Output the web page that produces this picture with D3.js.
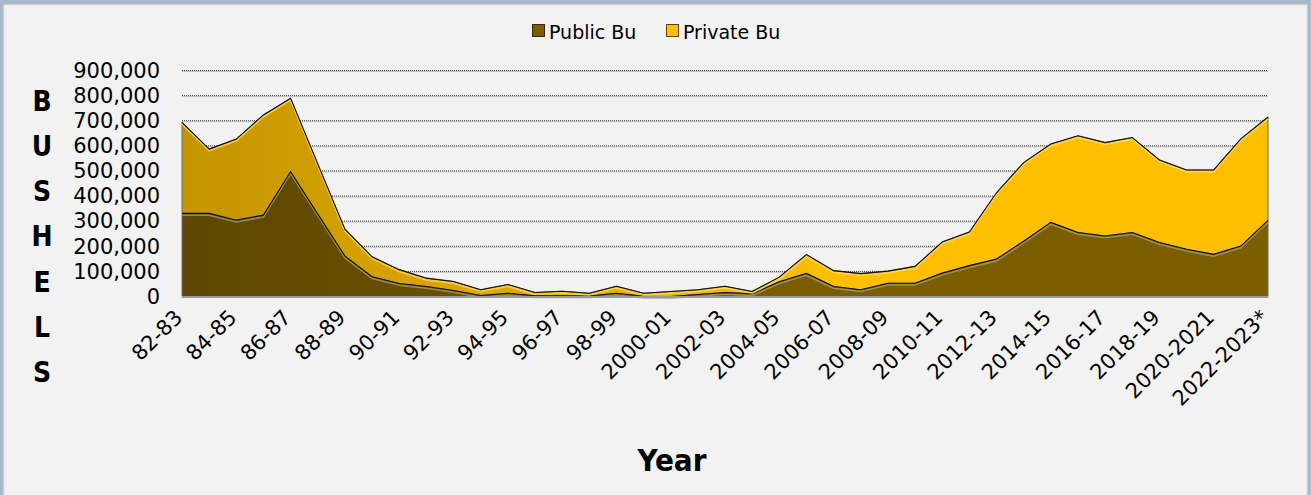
<!DOCTYPE html>
<html>
<head>
<meta charset="utf-8">
<script src="https://cdn.jsdelivr.net/npm/d3@7"></script>
<style>
  html, body { margin: 0; padding: 0; background: #f2f2f2; }
  svg { display: block; }
  text { font-family: "DejaVu Sans", sans-serif; fill: #000; }
</style>
</head>
<body>
<svg id="chart" width="1311" height="495"></svg>
<script>
// ---- data ----
const categories = ["82-83","83-84","84-85","85-86","86-87","87-88","88-89","89-90","90-91","91-92",
  "92-93","93-94","94-95","95-96","96-97","97-98","98-99","99-00","2000-01","2001-02",
  "2002-03","2003-04","2004-05","2005-06","2006-07","2007-08","2008-09","2009-10","2010-11","2011-12",
  "2012-13","2013-14","2014-15","2015-16","2016-17","2017-18","2018-19","2019-20","2020-2021","2021-2022",
  "2022-2023*"];
const publicBu = [331000,331000,304000,324000,497000,328000,161000,79000,52000,40000,
  24000,4000,13000,3000,3000,2000,13000,1000,0,8000,
  16000,11000,59000,92000,40000,27000,53000,53000,93000,123000,
  149000,220000,295000,255000,241000,255000,215000,188000,168000,201000,
  303000];
const totalBu = [693000,587000,627000,723000,789000,528000,268000,158000,107000,73000,
  60000,27000,48000,16000,21000,13000,41000,13000,20000,27000,
  41000,20000,77000,167000,103000,91000,101000,120000,217000,257000,
  413000,533000,607000,640000,613000,633000,544000,504000,504000,628000,
  715000];
const privateBu = totalBu.map((t, i) => t - publicBu[i]);
const seriesNames = ["Public Bu", "Private Bu"];
const yTicks = [0,100000,200000,300000,400000,500000,600000,700000,800000,900000];
const xTickLabels = ["82-83","84-85","86-87","88-89","90-91","92-93","94-95","96-97","98-99","2000-01",
  "2002-03","2004-05","2006-07","2008-09","2010-11","2012-13","2014-15","2016-17","2018-19","2020-2021","2022-2023*"];
const axisTitleY = "BUSHELS";
const axisTitleX = "Year";

(function () {
// ---- layout ----
const svg = d3.select("#chart");
const W = 1311, H = 495;
const pLeft = 182, pRight = 1268, pTop = 70.5, pBottom = 296.5;
const FONT = "\"DejaVu Sans\", sans-serif";
const FONT_C = "\"DejaVu Sans Condensed\", \"DejaVu Sans\", sans-serif";

// frame
svg.append("rect").attr("x",0).attr("y",0).attr("width",W).attr("height",H).attr("fill","#a9b8ca");
svg.append("rect").attr("x",4).attr("y",5).attr("width",1303).attr("height",H).attr("fill","#f2f2f2")
  .attr("stroke","#dfe3e8").attr("stroke-width",1);

const defs = svg.append("defs");
function grad(id, c0, c1) {
  const g = defs.append("linearGradient").attr("id", id)
    .attr("gradientUnits","userSpaceOnUse").attr("x1",pLeft).attr("x2",840).attr("y1",0).attr("y2",0);
  g.append("stop").attr("offset","0").attr("stop-color",c0);
  g.append("stop").attr("offset","1").attr("stop-color",c1);
}
grad("gPub", "#5d4700", "#7b5e00");
grad("gPri", "#c59500", "#fdbf00");

const x = d3.scalePoint().domain(categories).range([pLeft, pRight]);
const y = d3.scaleLinear().domain([0, 900000]).range([pBottom, pTop]);

// gridlines
const grid = svg.append("g");
yTicks.filter(v => v > 0).forEach(v => {
  grid.append("line").attr("x1",pLeft).attr("x2",pRight).attr("y1",y(v)+1).attr("y2",y(v)+1)
    .attr("stroke","#c4c4c4").attr("stroke-width",1);
  grid.append("line").attr("x1",pLeft).attr("x2",pRight).attr("y1",y(v)).attr("y2",y(v))
    .attr("stroke","#333").attr("stroke-width",1).attr("stroke-dasharray","1,1");
});

// stacked areas
const rows = categories.map((c, i) => ({cat: c, pub: publicBu[i], pri: privateBu[i]}));
const layers = d3.stack().keys(["pub","pri"])(rows);
const area = d3.area().x(d => x(d.data.cat)).y0(d => y(d[0])).y1(d => y(d[1]));
const topLine = d3.line().x(d => x(d.data.cat)).y(d => y(d[1]));
const fills = ["url(#gPub)", "url(#gPri)"];
const glows = ["#b0a070", "#ffdc6a"];

layers.forEach((layer, i) => {
  svg.append("path").datum(layer).attr("d", area).attr("fill", fills[i])
    .attr("stroke", "#6b6b6b").attr("stroke-width", 1);
});
layers.forEach((layer, i) => {
  svg.append("path").datum(layer).attr("d", topLine).attr("fill","none")
    .attr("stroke", glows[i]).attr("stroke-width", 1.6).attr("opacity", 0.75)
    .attr("transform","translate(0,1.8)");
  svg.append("path").datum(layer).attr("d", topLine).attr("fill","none")
    .attr("stroke", "#111").attr("stroke-width", 1.1);
});

// baseline
svg.append("line").attr("x1",pLeft).attr("x2",pRight).attr("y1",pBottom+0.5).attr("y2",pBottom+0.5)
  .attr("stroke","#9a9a9a").attr("stroke-width",2);

// y axis
const yAxis = svg.append("g").attr("transform",`translate(${pLeft},0)`)
  .call(d3.axisLeft(y).tickValues(yTicks).tickFormat(d3.format(",")).tickSize(0).tickPadding(22));
yAxis.select(".domain").remove();
yAxis.selectAll("text").style("font-size","21px").style("font-family",FONT).attr("fill","#000");

// x axis
const xAxis = svg.append("g").attr("transform",`translate(0,${pBottom})`)
  .call(d3.axisBottom(x).tickValues(xTickLabels).tickSize(0));
xAxis.select(".domain").remove();
xAxis.selectAll("text")
  .attr("x",0).attr("y",0).attr("dy","0.35em")
  .attr("text-anchor","end")
  .attr("transform","translate(-4,17) rotate(-45)")
  .style("font-size","21px").style("font-family",FONT).attr("fill","#000");

// y title (stacked letters)
const yt = svg.append("g");
axisTitleY.split("").forEach((ch, i) => {
  yt.append("text").attr("x", 42).attr("y", 100.5 + i*45.3).attr("dy","0.36em")
    .attr("text-anchor","middle").style("font-family",FONT_C)
    .style("font-size","28px").style("font-weight","bold").text(ch);
});

// x title
svg.append("text").attr("x", 672).attr("y", 471).attr("text-anchor","middle")
  .style("font-family",FONT_C).style("font-size","31px").style("font-weight","bold").text(axisTitleX);

// legend
const legendItems = [
  {name: seriesNames[0], x: 532, fill: "#7b5e00", stroke: "#3a2c00"},
  {name: seriesNames[1], x: 666, fill: "#fdbf00", stroke: "#5a4400"}
];
const lg = svg.append("g");
legendItems.forEach(it => {
  lg.append("rect").attr("x", it.x+0.5).attr("y", 24.5).attr("width", 12).attr("height", 12)
    .attr("fill", it.fill).attr("stroke", it.stroke).attr("stroke-width", 1);
  lg.append("text").attr("x", it.x + 17).attr("y", 38.5).style("font-size","19px").text(it.name);
});
})();
</script>
</body>
</html>
